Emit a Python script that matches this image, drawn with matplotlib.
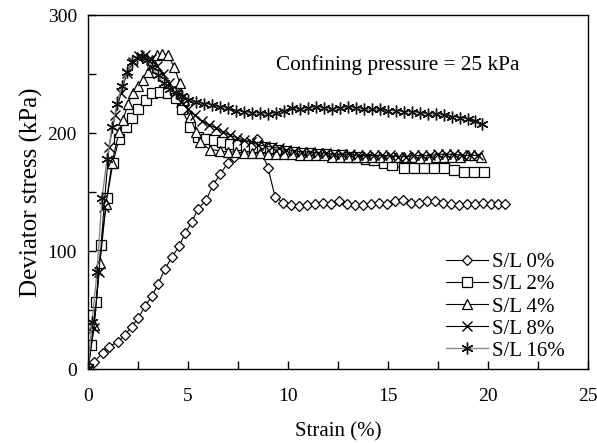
"""Deviator stress vs. strain curves for different S/L contents (confining pressure 25 kPa)."""

import matplotlib
matplotlib.use("Agg")
import matplotlib.pyplot as plt
from matplotlib.ticker import MultipleLocator

# S/L 0 %
strain_0 = [0, 0.3, 0.75, 1.05, 1.5, 1.85, 2.2, 2.5, 2.85, 3.2, 3.5, 3.85, 4.2, 4.55, 4.85,
            5.2, 5.5, 5.9, 6.25, 6.6, 7.0, 7.3, 7.65, 8.05, 8.45, 9.0, 9.35,
            9.75, 10.15, 10.55, 10.95, 11.35, 11.75, 12.15, 12.55, 12.95, 13.35, 13.75, 14.15,
            14.55, 14.95, 15.35, 15.75, 16.15, 16.55, 16.95, 17.35, 17.75, 18.15, 18.55, 18.95,
            19.35, 19.75, 20.15, 20.5, 20.85]
stress_0 = [0, 6, 14, 19, 23, 29, 36, 43, 53, 62, 72, 85, 95, 104, 115,
            125, 136, 143, 156, 165, 175, 180, 186, 191, 195, 170, 146,
            141, 139, 138, 139, 140, 141, 140, 142, 140, 139, 139, 140,
            141, 140, 142, 143, 141, 141, 142, 142, 141, 140, 139, 140,
            140, 141, 140, 140, 140]

# S/L 2 %
strain_2 = [0, 0.15, 0.4, 0.65, 0.95, 1.25, 1.55, 1.9, 2.2, 2.5, 2.9, 3.2, 3.6, 4.0, 4.4,
            4.7, 5.1, 5.5, 5.9, 6.3, 6.7, 7.1, 7.5, 7.9, 8.3, 8.7, 9.1, 9.5, 9.9, 10.3,
            10.7, 11.1, 11.5, 11.9, 12.3, 12.7, 13.1, 13.5, 13.9, 14.3, 14.8, 15.2, 15.8,
            16.3, 16.8, 17.3, 17.8, 18.3, 18.8, 19.3, 19.8]
stress_2 = [0, 20, 57, 105, 145, 175, 195, 205, 213, 220, 228, 234, 235, 234, 230,
            220, 205, 197, 195, 194, 192, 191, 190, 189, 188, 188, 187, 186, 185, 184,
            183, 183, 182, 182, 181, 181, 180, 180, 178, 177, 175, 173, 170,
            170, 170, 170, 170, 169, 167, 167, 167]

# S/L 4 %
strain_4 = [0, 0.3, 0.6, 0.9, 1.2, 1.55, 1.75, 2.0, 2.25, 2.5, 2.75, 3.0, 3.2, 3.45, 3.7,
            4.0, 4.3, 4.6, 4.8, 5.1, 5.4, 5.6, 6.1, 6.6, 7.0, 7.4, 7.8, 8.2, 8.6, 9.0,
            9.4, 9.8, 10.2, 10.6, 11.0, 11.4, 11.8, 12.2, 12.6, 13.0, 13.4, 13.8, 14.2,
            14.6, 15.0, 15.4, 15.8, 16.2, 16.6, 17.0, 17.4, 17.8, 18.2, 18.6, 19.0,
            19.3, 19.65]
stress_4 = [0, 37, 90, 140, 175, 201, 211, 225, 234, 240, 245, 252, 262, 266, 267,
            266, 256, 242, 228, 214, 201, 192, 186, 185, 184, 184, 183, 183, 183, 182,
            182, 182, 182, 181, 181, 181, 181, 180, 180, 180, 180, 180, 180,
            180, 180, 180, 180, 180, 179, 179, 180, 180, 180, 180, 181,
            181, 180]

# S/L 8 %
strain_8 = [0, 0.3, 0.55, 0.8, 1.05, 1.35, 1.65, 1.95, 2.25, 2.55, 2.85, 3.15, 3.45, 3.75,
            4.05, 4.35, 4.65, 5.0, 5.35, 5.7, 6.05, 6.4, 6.75, 7.1, 7.45, 7.8, 8.15, 8.5,
            8.85, 9.2, 9.55, 9.9, 10.3, 10.7, 11.1, 11.5, 11.9, 12.3, 12.7, 13.1, 13.5,
            13.9, 14.3, 14.7, 15.1, 15.5, 15.9, 16.3, 16.7, 17.1, 17.5, 17.9, 18.3, 18.7,
            19.1, 19.5]
stress_8 = [0, 35, 82, 137, 188, 215, 234, 251, 260, 265, 266, 263, 257, 250,
            242, 234, 226, 220, 215, 210, 207, 204, 201, 198, 196, 194, 192, 190,
            189, 188, 187, 186, 185, 184, 184, 183, 183, 182, 182, 182, 181,
            181, 181, 181, 181, 180, 180, 181, 181, 181, 182, 182, 182, 181,
            181, 181]

# S/L 16 %
strain_16 = [0, 0.2, 0.45, 0.7, 0.95, 1.2, 1.45, 1.7, 1.95, 2.2, 2.45, 2.7, 2.95, 3.2, 3.5,
             3.8, 4.1, 4.4, 4.7, 5.0, 5.4, 5.8, 6.2, 6.6, 7.0, 7.4, 7.8, 8.2, 8.6, 9.0,
             9.4, 9.8, 10.2, 10.6, 11.0, 11.4, 11.8, 12.2, 12.6, 13.0, 13.4, 13.8, 14.2,
             14.6, 15.0, 15.4, 15.8, 16.2, 16.6, 17.0, 17.4, 17.8, 18.2, 18.6, 19.0,
             19.35, 19.7]
stress_16 = [0, 40, 82, 145, 178, 205, 225, 240, 252, 260, 264, 265, 262, 256, 249,
             242, 237, 234, 231, 228, 226, 225, 224, 222, 221, 219, 218, 217, 217, 216,
             217, 219, 221, 220, 221, 222, 221, 220, 221, 222, 221, 220, 220,
             220, 219, 219, 218, 218, 217, 216, 216, 215, 214, 213, 212,
             210, 208]

labels = ["S/L 0%", "S/L 2%", "S/L 4%", "S/L 8%", "S/L 16%"]

FONT = ["Liberation Serif", "DejaVu Serif"]


def main() -> None:
    plt.rcParams["font.family"] = FONT

    fig = plt.figure(figsize=(5.97, 4.43), dpi=100)
    ax = fig.add_axes([0.1474, 0.167, 0.838, 0.799])

    common = dict(linewidth=0.8, markeredgewidth=0.9, markerfacecolor="white")
    ax.plot(strain_0, stress_0, marker="D", markersize=5.5, color="black", label=labels[0], **common)
    ax.plot(strain_2, stress_2, marker="s", markersize=6.5, color="black", label=labels[1], **common)
    ax.plot(strain_4, stress_4, marker="^", markersize=7, color="black", label=labels[2], **common)
    ax.plot(strain_8, stress_8, marker="x", markersize=6.5, color="black", label=labels[3],
            linewidth=0.8, markeredgewidth=1.0)
    ax.plot(strain_16, stress_16, marker=(6, 2, 0), markersize=8.5, color="#8a8a8a",
            markeredgecolor="#111111", label=labels[4], linewidth=1.0, markeredgewidth=1.0)

    ax.set_xlim(0, 25)
    ax.set_ylim(0, 300)
    ax.xaxis.set_major_locator(MultipleLocator(5))
    ax.xaxis.set_minor_locator(MultipleLocator(2.5))
    ax.yaxis.set_major_locator(MultipleLocator(100))
    ax.yaxis.set_minor_locator(MultipleLocator(50))
    ax.tick_params(axis="both", which="both", direction="in", top=False, right=False,
                   width=1.0, length=6, labelsize=14)
    ax.tick_params(axis="x", which="major", pad=14)
    ax.tick_params(axis="y", which="major", pad=8)
    for spine in ax.spines.values():
        spine.set_linewidth(1.0)

    ax.set_xlabel("Strain (%)", fontsize=15, labelpad=12)
    ax.set_ylabel("Deviator stress (kPa)", fontsize=18, labelpad=3)

    ax.text(9.4, 258, "Confining pressure = 25 kPa", fontsize=15.3, ha="left", va="center")

    ax.legend(loc="lower right", bbox_to_anchor=(0.97, 0.0), frameon=False, fontsize=15,
              handlelength=2.0, handletextpad=0.2, labelspacing=0.12, borderaxespad=0.0)

    fig.savefig("out.png", dpi=100)
    plt.close(fig)


if __name__ == "__main__":
    main()
